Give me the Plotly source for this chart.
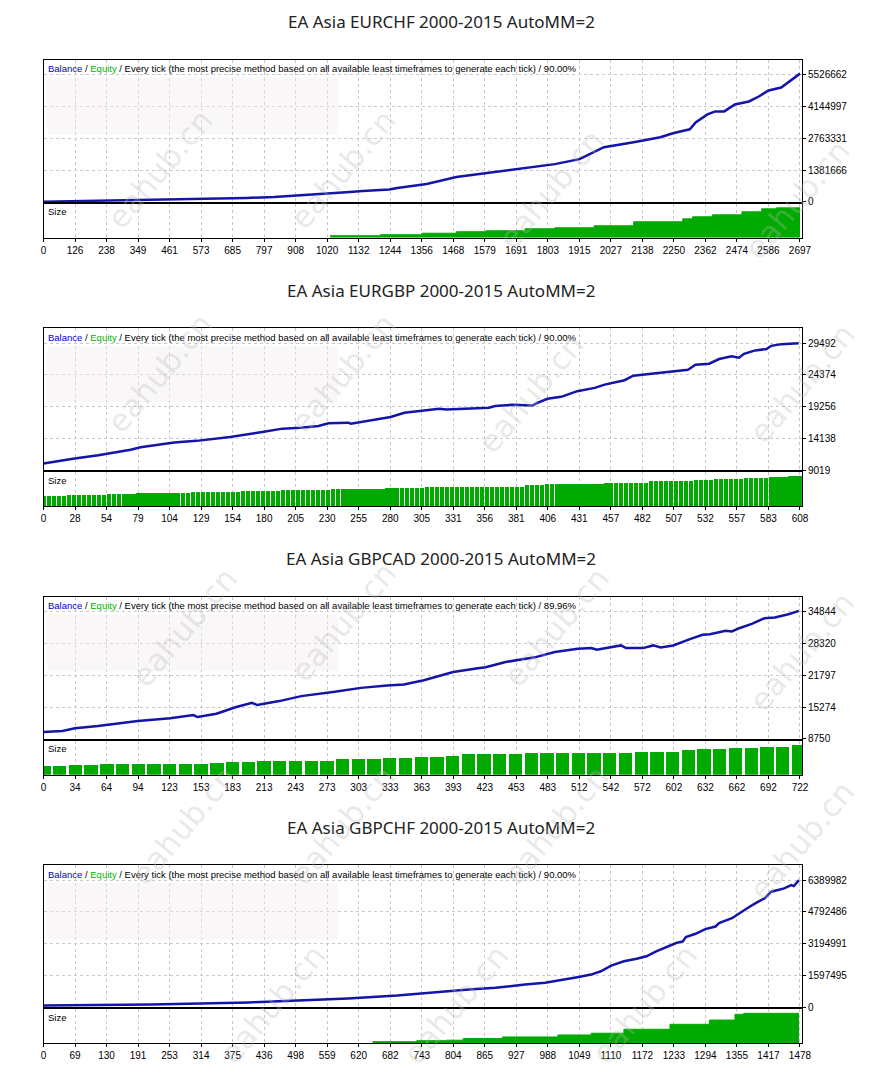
import numpy as np
import plotly.graph_objects as go

W, H = 883, 1088
PAD = 8  # default page margin around the plot div

titles = [
    "EA Asia EURCHF 2000-2015 AutoMM=2",
    "EA Asia EURGBP 2000-2015 AutoMM=2",
    "EA Asia GBPCAD 2000-2015 AutoMM=2",
    "EA Asia GBPCHF 2000-2015 AutoMM=2",
]
quality = ["90.00%", "90.00%", "89.96%", "90.00%"]

# ---- EURCHF
c1_xticks = ["0", "126", "238", "349", "461", "573", "685", "797", "908", "1020", "1132", "1244",
             "1356", "1468", "1579", "1691", "1803", "1915", "2027", "2138", "2250", "2362",
             "2474", "2586", "2697"]
c1_yticks = [0, 1381666, 2763331, 4144997, 5526662]
c1_trade = [0, 376, 569, 723, 822, 885, 938, 997, 1040, 1092, 1138, 1233, 1261, 1366, 1472,
            1612, 1717, 1823, 1911, 1963, 1998, 2104, 2199, 2244, 2304, 2325, 2367, 2395, 2427,
            2465, 2515, 2550, 2585, 2630, 2666, 2697]
c1_balance = [10000, 86000, 130000, 173000, 216000, 259000, 302000, 345000, 389000, 432000,
              475000, 540000, 604000, 777000, 1079000, 1295000, 1468000, 1641000, 1857000,
              2159000, 2375000, 2591000, 2806000, 2979000, 3152000, 3454000, 3800000, 3929000,
              3929000, 4231000, 4361000, 4577000, 4836000, 4965000, 5311000, 5570000]
c1_size_trade = [1022, 1201, 1349, 1472, 1577, 1717, 1823, 1963, 2104, 2279, 2314, 2385, 2490,
                 2560, 2613, 2697]
c1_size_lots = [6.7, 10, 15, 20, 23.3, 30, 33.3, 40, 53.3, 63.3, 70, 76.7, 86.7, 96.7, 100, 100]

# ---- EURGBP
c2_xticks = ["0", "28", "54", "79", "104", "129", "154", "180", "205", "230", "255", "280",
             "305", "331", "356", "381", "406", "431", "457", "482", "507", "532", "557",
             "583", "608"]
c2_yticks = [9019, 14138, 19256, 24374, 29492]
c2_trade = [0, 17, 25, 44, 70, 78, 105, 123, 150, 176, 192, 207, 221, 229, 245, 247, 263, 279,
            290, 302, 318, 324, 358, 363, 377, 393, 397, 405, 416, 429, 443, 451, 467, 474, 492,
            508, 518, 524, 535, 543, 553, 559, 563, 572, 581, 585, 593, 607]
c2_balance = [10138, 10730, 10938, 11466, 12330, 12746, 13497, 13770, 14409, 15209, 15737,
              15897, 16169, 16585, 16696, 16537, 17064, 17608, 18296, 18568, 18935, 18823,
              19095, 19368, 19575, 19463, 19895, 20535, 20855, 21766, 22294, 22822, 23525,
              24262, 24694, 25061, 25221, 26021, 26181, 26933, 27365, 27141, 27780, 28324,
              28532, 29060, 29332, 29492]
c2_size_trade = [0, 17, 49, 76, 118, 158, 189, 231, 276, 306, 385, 403, 427, 450, 488, 522,
                 540, 563, 583, 600]
c2_size_lots = [0.30, 0.33, 0.36, 0.39, 0.42, 0.45, 0.48, 0.51, 0.54, 0.57, 0.62, 0.65, 0.67,
                0.70, 0.74, 0.77, 0.82, 0.85, 0.87, 0.90]

# ---- GBPCAD
c3_xticks = ["0", "34", "64", "94", "123", "153", "183", "213", "243", "273", "303", "333",
             "363", "393", "423", "453", "483", "512", "542", "572", "602", "632", "662",
             "692", "722"]
c3_yticks = [8750, 15274, 21797, 28320, 34844]
c3_trade = [0, 18, 30, 52, 90, 121, 143, 147, 165, 184, 199, 204, 225, 246, 278, 303, 328, 344,
            363, 391, 413, 422, 441, 469, 488, 510, 523, 528, 551, 556, 572, 582, 589, 601, 617,
            629, 636, 651, 657, 664, 676, 688, 698, 711, 721]
c3_balance = [10177, 10381, 10931, 11400, 12420, 12970, 13643, 13235, 13908, 15273, 16150,
              15681, 16497, 17516, 18393, 19208, 19698, 19902, 20778, 22470, 23163, 23428,
              24510, 25466, 26547, 27240, 27362, 27036, 27913, 27362, 27362, 27913, 27505,
              27913, 29197, 30094, 30216, 30910, 30767, 31440, 32337, 33478, 33621, 34294,
              34987]
c3_size_trade = [0, 30, 46, 109, 154, 170, 201, 277, 323, 354, 385, 400, 462, 523, 570, 601,
                 629, 660, 676, 707]
c3_size_lots = [0.27, 0.29, 0.32, 0.34, 0.37, 0.39, 0.42, 0.47, 0.52, 0.55, 0.57, 0.62, 0.65,
                0.67, 0.70, 0.74, 0.77, 0.82, 0.85, 0.90]

# ---- GBPCHF
c4_xticks = ["0", "69", "130", "191", "253", "314", "375", "436", "498", "559", "620", "682",
             "743", "804", "865", "927", "988", "1049", "1110", "1172", "1233", "1294", "1355",
             "1417", "1478"]
c4_yticks = [0, 1597495, 3194991, 4792486, 6389982]
c4_trade = [0, 210, 402, 595, 691, 787, 831, 883, 916, 941, 980, 1012, 1043, 1070, 1089, 1109,
            1134, 1159, 1178, 1197, 1216, 1236, 1249, 1255, 1274, 1293, 1313, 1320, 1345, 1359,
            1378, 1393, 1409, 1422, 1447, 1461, 1466, 1476]
c4_balance = [100000, 150000, 250000, 450000, 600000, 815000, 899000, 982000, 1098000, 1148000,
              1231000, 1364000, 1514000, 1647000, 1814000, 2097000, 2313000, 2446000, 2563000,
              2812000, 3030000, 3229000, 3312000, 3529000, 3694000, 3928000, 4059000, 4226000,
              4476000, 4726000, 5025000, 5257000, 5475000, 5806000, 5975000, 6140000, 6090000,
              6390000]
c4_size_trade = [643, 729, 787, 820, 897, 1005, 1070, 1134, 1224, 1301, 1351, 1368, 1476]
c4_size_lots = [6, 10, 12, 19, 25, 33, 40, 56, 76, 93, 116, 120, 120]

charts = [
    dict(xt=c1_xticks, yt=c1_yticks, tr=c1_trade, bal=c1_balance, st=c1_size_trade,
         sl=c1_size_lots, smax=113.3, kind="area"),
    dict(xt=c2_xticks, yt=c2_yticks, tr=c2_trade, bal=c2_balance, st=c2_size_trade,
         sl=c2_size_lots, smax=1.02, kind="bar", step=4),
    dict(xt=c3_xticks, yt=c3_yticks, tr=c3_trade, bal=c3_balance, st=c3_size_trade,
         sl=c3_size_lots, smax=1.02, kind="bar", step=15),
    dict(xt=c4_xticks, yt=c4_yticks, tr=c4_trade, bal=c4_balance, st=c4_size_trade,
         sl=c4_size_lots, smax=136, kind="area"),
]

BLUE = "#1414a8"
GREEN = "#00aa00"
GRID = "#c8c8c8"
TICKFONT = dict(family="Liberation Sans", size=10, color="#000000")

FW, FH = W - 2 * PAD, H - 2 * PAD


def px(x):
    return (x - PAD) / FW


def py(y):
    return 1 - (y - PAD) / FH


X0, X1 = 41, 811
fig = go.Figure()
layout = {}
annotations = []
shapes = []

for k, c in enumerate(charts):
    off = 270 * k
    na, nb = 2 * k + 1, 2 * k + 2
    xa, ya = f"x{na}", f"y{na}"
    xb, yb = f"x{nb}", f"y{nb}"
    last = int(c["xt"][-1])
    xmax = last * 770 / 768
    tv = np.linspace(0, last, len(c["xt"]))

    fig.add_trace(go.Scatter(x=c["tr"], y=c["bal"], mode="lines", xaxis=xa, yaxis=ya,
                             line=dict(color=BLUE, width=2.5), showlegend=False))
    if c["kind"] == "area":
        fig.add_trace(go.Scatter(x=c["st"], y=c["sl"], mode="lines", xaxis=xb, yaxis=yb,
                                 line=dict(color=GREEN, width=1, shape="hv"), fill="tozeroy",
                                 fillcolor=GREEN, showlegend=False))
    else:
        bx = np.arange(0, last + 1, c["step"])
        idx = np.searchsorted(c["st"], bx, side="right") - 1
        by = np.array(c["sl"])[idx]
        fig.add_trace(go.Bar(x=bx, y=by, width=c["step"] * 0.85, xaxis=xb, yaxis=yb,
                             marker=dict(color=GREEN, line=dict(width=0)), showlegend=False))

    yt = c["yt"]
    step = yt[1] - yt[0]
    yrange = [yt[0], yt[0] + step * 143 / 32]

    xcommon = dict(domain=[px(X0), px(X1)], range=[0, xmax], tickvals=tv,
                   showgrid=True, gridcolor=GRID, griddash="3px,3px", gridwidth=1,
                   showline=True, linecolor="#000000", linewidth=1, mirror=True,
                   zeroline=False, fixedrange=True)
    layout["xaxis" if na == 1 else f"xaxis{na}"] = dict(
        xcommon, anchor=ya, showticklabels=False, ticks="")
    layout[f"xaxis{nb}"] = dict(
        xcommon, anchor=yb, ticktext=c["xt"], ticks="outside", ticklen=3,
        tickcolor="#000000", tickfont=TICKFONT)
    layout["yaxis" if na == 1 else f"yaxis{na}"] = dict(
        domain=[py(203 + off), py(60 + off)], anchor=xa, side="right", range=yrange,
        tickvals=yt, ticktext=[str(v) for v in yt], ticks="outside", ticklen=3,
        tickcolor="#000000", tickfont=TICKFONT, showgrid=True, gridcolor=GRID,
        griddash="3px,3px", showline=True, linecolor="#000000", mirror=True,
        zeroline=False, fixedrange=True)
    layout[f"yaxis{nb}"] = dict(
        domain=[py(239 + off), py(205 + off)], anchor=xb, range=[0, c["smax"]],
        showticklabels=False, showgrid=False, showline=True, linecolor="#000000",
        mirror=True, zeroline=False, ticks="", fixedrange=True)

    # blurred report stamp in the top-left corner of each equity panel
    shapes.append(dict(type="rect", xref="paper", yref="paper", layer="above",
                       x0=px(45), x1=px(340), y0=py(135 + off), y1=py(78 + off),
                       fillcolor="rgba(240,234,236,0.4)", line=dict(width=0)))

    annotations.append(dict(
        text=titles[k], x=px(445), y=py(22 + off), xref="paper", yref="paper",
        showarrow=False, xanchor="center", yanchor="middle",
        font=dict(family="Noto Sans", size=17, color="#222222")))
    annotations.append(dict(
        text=("<span style='color:#0000cc'>Balance</span> / "
              "<span style='color:#00b400'>Equity</span> / Every tick (the most precise "
              "method based on all available least timeframes to generate each tick) / "
              + quality[k]),
        x=px(44), y=py(69 + off), xref="paper", yref="paper", showarrow=False,
        xanchor="left", yanchor="middle", font=dict(family="Liberation Sans", size=9.5,
                                                    color="#000000")))
    annotations.append(dict(
        text="Size", x=px(44), y=py(213 + off), xref="paper", yref="paper",
        showarrow=False, xanchor="left", yanchor="middle",
        font=dict(family="Liberation Sans", size=9.5, color="#000000")))

# watermark
marks = [(95, 100), (345, 100), (620, 120), (870, 130),
         (95, 375), (345, 375), (600, 395), (875, 385),
         (120, 630), (345, 625), (625, 630), (875, 655),
         (120, 900), (345, 900), (625, 900), (875, 915),
         (210, 1080), (460, 1080), (715, 1080)]
for mx, my in marks:
    annotations.append(dict(
        text="eahub.cn", x=px(mx), y=py(my), xref="paper", yref="paper", showarrow=False,
        textangle=-50, font=dict(family="DejaVu Sans", size=31, color="rgba(185,185,185,0.33)")))

fig.update_layout(**layout)
fig.update_layout(width=FW, height=FH, margin=dict(l=0, r=0, t=0, b=0),
                  paper_bgcolor="white", plot_bgcolor="white", bargap=0,
                  annotations=annotations, shapes=shapes)
fig.write_html("out.html")
